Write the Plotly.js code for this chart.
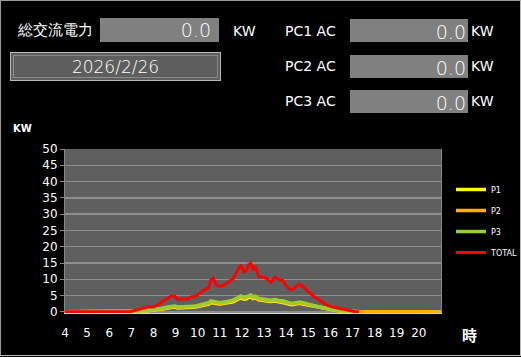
<!DOCTYPE html>
<html>
<head>
<meta charset="utf-8">
<script src="https://cdn.plot.ly/plotly-3.0.1.min.js"></script>
<style>
html,body{margin:0;padding:0;background:#000;}
#wrap{position:relative;width:521px;height:357px;background:#000;overflow:hidden;}
#frame{position:absolute;left:0;top:0;width:519px;height:354px;border:1px solid #9a9a9a;border-right-color:#bbb;border-bottom-color:#bbb;pointer-events:none;z-index:5;}
#chart{position:absolute;left:0;top:0;width:521px;height:357px;}
.lbl{position:absolute;color:#fff;font-family:"DejaVu Sans",sans-serif;font-size:14px;line-height:16px;z-index:3;}
.box{position:absolute;background:#808080;color:#fff;font-family:"DejaVu Sans",sans-serif;font-size:19px;font-weight:200;text-align:right;box-sizing:border-box;padding-right:8px;z-index:3;}
.date{position:absolute;left:10px;top:52px;width:211px;height:29px;background:#5e5e5e;border:1px solid #b8b8b8;box-sizing:border-box;z-index:3;}
.date div{position:absolute;left:2px;top:2px;right:2px;bottom:2px;border:1px solid #8c8c8c;color:#fff;font-family:"DejaVu Sans",sans-serif;font-size:17px;font-weight:200;text-align:center;line-height:22px;}
</style>
</head>
<body>
<div id="wrap">
<div id="chart"></div>
<div id="frame"></div>
<div class="lbl" style="left:18px;top:22px;font-size:15px;">総交流電力</div>
<div class="box" style="left:100px;top:18px;width:119px;height:24px;line-height:25px;">0.0</div>
<div class="lbl" style="left:233px;top:23px;">KW</div>
<div class="date"><div>2026/2/26</div></div>
<div class="lbl" style="left:285px;top:23px;">PC1 AC</div>
<div class="box" style="left:350px;top:19px;width:118px;height:23px;line-height:26px;padding-right:2px;">0.0</div>
<div class="lbl" style="left:471px;top:23px;">KW</div>
<div class="lbl" style="left:285px;top:58px;">PC2 AC</div>
<div class="box" style="left:350px;top:55px;width:118px;height:23px;line-height:26px;padding-right:2px;">0.0</div>
<div class="lbl" style="left:471px;top:58px;">KW</div>
<div class="lbl" style="left:285px;top:93px;">PC3 AC</div>
<div class="box" style="left:350px;top:90px;width:118px;height:23px;line-height:26px;padding-right:2px;">0.0</div>
<div class="lbl" style="left:471px;top:93px;">KW</div>
</div>
<script>
const hours = [4,6.9,7.2,7.5,7.8,8.0,8.2,8.4,8.6,8.8,8.95,9.1,9.3,9.5,9.7,9.9,10.1,10.3,10.5,10.6,10.7,10.85,11.0,11.2,11.4,11.6,11.8,11.95,12.1,12.2,12.3,12.4,12.5,12.6,12.75,12.9,13.1,13.3,13.5,13.65,13.85,14.0,14.15,14.3,14.45,14.6,14.75,14.9,15.1,15.3,15.5,15.7,15.9,16.1,16.3,16.5,16.7,16.9,17.1,17.3,21];
const p1 = [0,0,0.1,0.2,0.4,0.5,0.6,0.9,1.1,1.4,1.5,1.2,1.2,1.2,1.4,1.5,1.8,2.1,2.4,2.9,2.8,2.5,2.4,2.6,2.8,3.1,3.8,4.3,3.9,4.0,4.4,4.6,4.1,4.3,3.7,3.5,3.4,3.2,3.3,3.1,3.0,2.6,2.3,2.2,2.5,2.6,2.4,2.2,1.8,1.5,1.2,1.0,0.8,0.6,0.4,0.3,0.2,0.1,0.05,0,null];
const p2 = [0,0,0.1,0.25,0.45,0.55,0.7,1.0,1.25,1.55,1.65,1.35,1.35,1.35,1.55,1.65,2.0,2.3,2.6,3.15,3.0,2.7,2.6,2.8,3.0,3.35,4.05,4.6,4.15,4.3,4.7,4.9,4.35,4.55,3.95,3.75,3.6,3.4,3.55,3.3,3.2,2.8,2.5,2.4,2.7,2.8,2.6,2.35,1.95,1.65,1.35,1.1,0.85,0.65,0.45,0.35,0.25,0.12,0.05,0,0];
const p3 = [0,0,0.1,0.3,0.5,0.6,0.8,1.1,1.4,1.7,1.8,1.5,1.5,1.5,1.7,1.8,2.2,2.5,2.8,3.4,3.2,2.9,2.8,3.0,3.2,3.6,4.3,4.9,4.4,4.6,5.0,5.2,4.6,4.8,4.2,4.0,3.8,3.6,3.8,3.5,3.4,3.0,2.7,2.6,2.9,3.0,2.8,2.5,2.1,1.8,1.5,1.2,0.9,0.7,0.5,0.4,0.3,0.15,0.05,0,null];
const total = [0,0,0.5,1.0,1.6,1.5,2.2,3.2,4.0,4.8,4.9,3.8,4.0,3.9,4.6,4.8,5.8,6.8,7.5,9.8,10.3,8.2,7.8,8.3,9.2,10.2,12.8,14.4,12.2,12.6,14.5,15.0,12.8,14.0,11.0,10.6,10.4,9.0,10.6,9.9,9.6,8.0,7.0,6.9,7.8,8.5,7.8,6.8,5.6,4.5,3.6,2.6,1.9,1.5,1.2,1.0,0.8,0.4,0.1,0,null];
const seriesNames = ['P1','P2','P3','TOTAL'];
const seriesColors = ['#ffff00','#ffb000','#9acd32','#ff0000'];
const xTicks = [4,5,6,7,8,9,10,11,12,13,14,15,16,17,18,19,20];
const yTicks = [0,5,10,15,20,25,30,35,40,45,50];

const data = [p1,p2,p3,total].map((ys,i)=>({
  x: hours, y: ys, type:'scatter', mode:'lines', name: seriesNames[i], legendgroup:'g'+i,
  line:{color: seriesColors[i], width: i===3?3:3.5}, connectgaps:false
}));

const layout = {
  width:521, height:357,
  paper_bgcolor:'#000', plot_bgcolor:'#5f5f5f',
  margin:{l:65, r:80, t:149, b:44},
  font:{family:'"DejaVu Sans", sans-serif', color:'#fff', size:12},
  xaxis:{range:[4,21], tickvals:xTicks, ticktext:xTicks.map(String), showgrid:false, zeroline:false,
         showline:true, linecolor:'#d8d8d8', linewidth:1, mirror:false, ticks:'', ticklabelstandoff:9,
         tickfont:{size:12,color:'#fff'}, fixedrange:true},
  yaxis:{range:[-0.35,50], tickvals:yTicks, ticktext:yTicks.map(String), showgrid:true, gridcolor:'#8e8e8e', gridwidth:1.5,
         zeroline:false, showline:true, linecolor:'#888', mirror:true, ticks:'outside', ticklen:4, tickcolor:'#888',
         tickfont:{size:12,color:'#fff'}, fixedrange:true},
  showlegend:true,
  legend:{xref:'container', yref:'container', x:451/521, xanchor:'left', y:(357-175)/357, yanchor:'top',
          bgcolor:'rgba(0,0,0,0)', font:{size:8,color:'#fff'}, itemwidth:30, tracegroupgap:2},
  annotations:[
    {text:'<b>KW</b>', xref:'paper', yref:'paper', x:-0.143, y:1.125, xanchor:'left', yanchor:'middle', showarrow:false, font:{size:10,color:'#fff'}},
    {text:'<b>時</b>', xref:'paper', yref:'paper', x:1.05, y:-0.13, xanchor:'left', yanchor:'middle', showarrow:false, font:{size:15,color:'#fff', family:'"Noto Sans CJK JP", sans-serif'}}
  ]
};
Plotly.newPlot('chart', data, layout, {displayModeBar:false, staticPlot:true});
</script>
</body>
</html>
